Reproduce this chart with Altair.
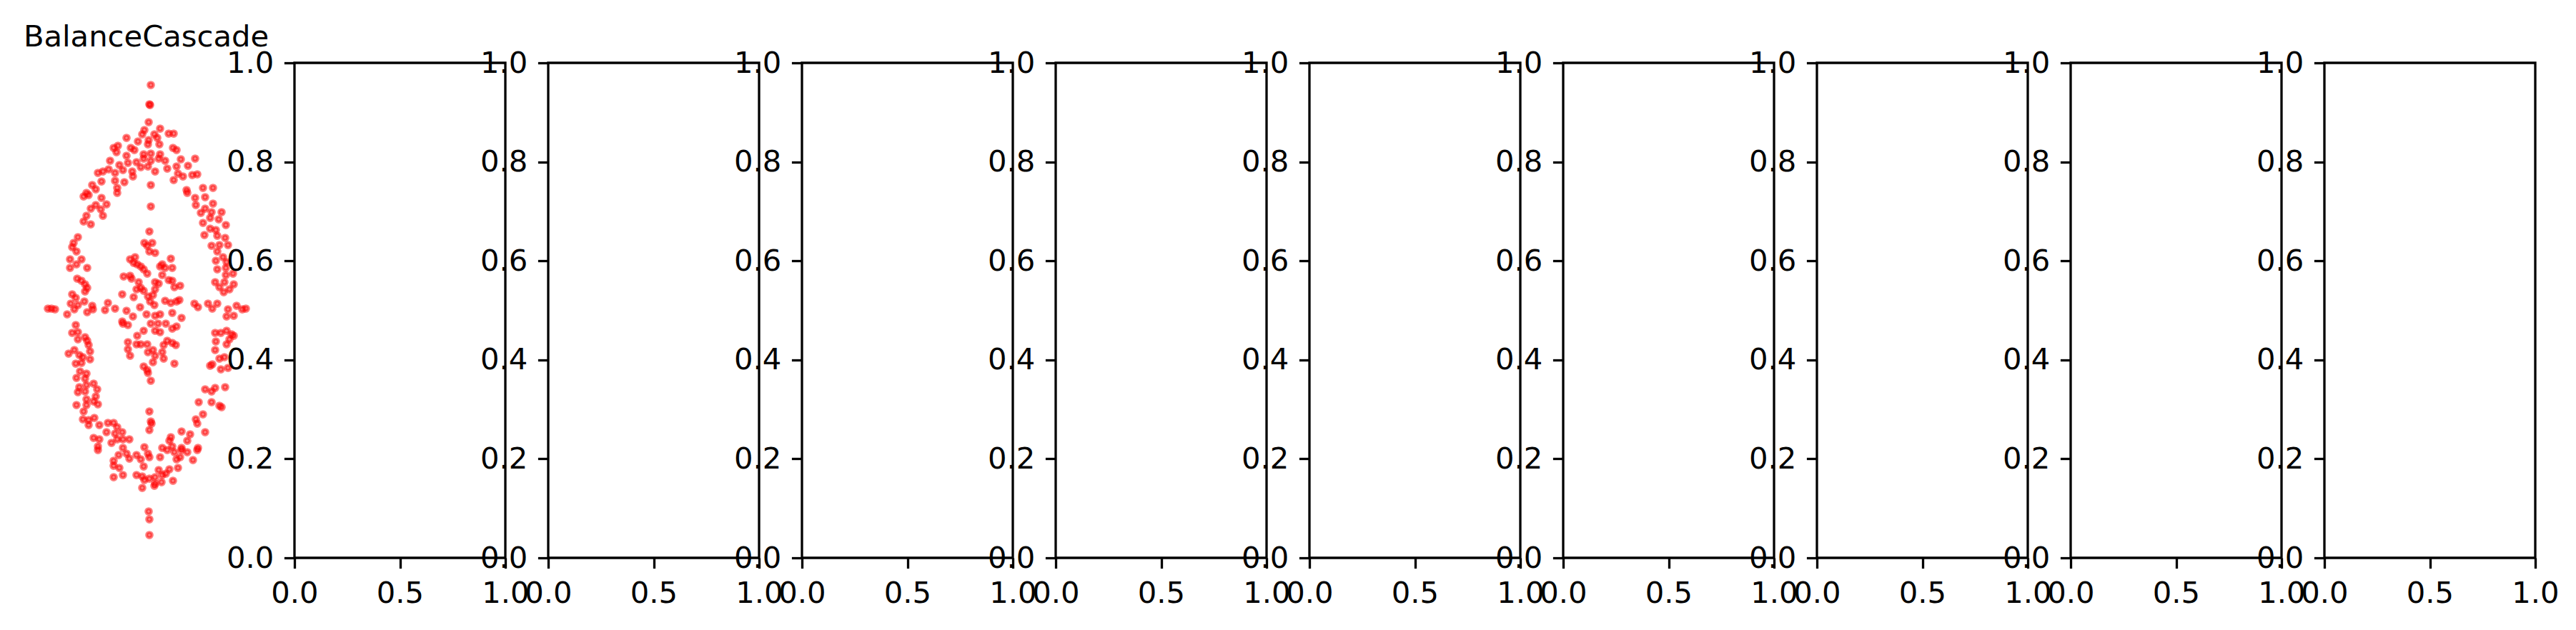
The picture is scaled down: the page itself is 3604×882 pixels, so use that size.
import pandas as pd
import altair as alt

# points of the BalanceCascade panel (x, y)
arc_top = [(-0.08,2.52),(0.14,2.54),(-0.11,2.46),(0.06,2.46),(0.26,2.47),(0.33,2.47),(-0.33,2.41),(-0.17,2.36),
    (-0.02,2.38),(0.10,2.41),(0.13,2.32),(-0.51,2.27),(-0.45,2.30),(-0.47,2.21),(-0.27,2.27),(-0.22,2.24),
    (-0.03,2.32),(-0.09,2.18),(0.01,2.19),(0.14,2.18),(0.32,2.27),(0.37,2.24),(-0.33,2.16),(-0.56,2.09),
    (-0.43,2.03),(-0.31,2.06),(-0.19,2.07),(-0.09,2.12),(0.01,2.09),(0.12,2.12),(0.21,2.09),(0.43,2.11),
    (0.63,2.12),(-0.73,1.92),(-0.66,1.94),(-0.58,1.97),(-0.49,1.92),(-0.38,1.96),(-0.25,1.94),(-0.24,1.87),
    (-0.13,2.00),(-0.03,2.01),(0.07,1.94),(0.24,1.98),(0.37,2.01),(0.53,2.02),(-0.68,1.80),(-0.49,1.81),
    (-0.36,1.79),(0.33,1.82),(0.39,1.91),(0.46,1.87),(0.59,1.89),(0.66,1.90),(-0.81,1.75),(-0.76,1.69),
    (-0.46,1.71),(0.51,1.68),(0.74,1.71),(0.88,1.71),(-0.89,1.64),(-0.46,1.64),(0.52,1.64)]

arc_left = [(-0.93,1.59),(-0.86,1.61),(-0.68,1.57),(-0.61,1.48),(-0.76,1.47),(-0.83,1.42),(-0.69,1.41),(-0.66,1.32),
    (-0.89,1.32),(-0.93,1.24),(-0.83,1.20),(-1.01,1.02),(-1.07,0.94),(-1.09,0.88),(-1.03,0.82),(-1.12,0.71),
    (-0.96,0.71),(-1.12,0.59),(-1.03,0.64),(-0.88,0.59),(-1.02,0.44),(-0.96,0.41),(-0.91,0.36),(-0.88,0.31),
    (-0.91,0.26),(-1.09,0.22),(-1.04,0.17),(-1.11,0.09),(-1.01,0.07),(-0.92,0.12),(-0.81,0.06),
    (-1.04,-0.21),(-1.09,-0.32),(-1.01,-0.31),(-0.91,-0.38),(-1.01,-0.41),(-0.88,-0.43),(-0.86,-0.49),(-0.84,-0.58),
    (-1.14,-0.61),(-1.06,-0.56),(-0.99,-0.63),(-0.94,-0.66),(-0.84,-0.69),(-1.04,-0.75),(-0.96,-0.74),(-0.98,-0.86),
    (-0.89,-0.89),(-1.03,-0.95),(-0.91,-0.96),(-0.79,-1.03),(-0.99,-1.08),(-0.89,-1.05),(-0.74,-1.11),(-1.01,-1.15),
    (-0.91,-1.14),(-0.76,-1.21),(-0.89,-1.25),(-0.79,-1.28),(-1.03,-1.33),(-0.89,-1.33),(-0.73,-1.32),(-0.93,-1.42),
    (-0.94,-1.53),(-0.86,-1.54),(-0.78,-1.51),(-0.86,-1.61),(-0.71,-1.61)]

arc_right = [(0.63,1.57),(0.77,1.58),(0.64,1.47),(0.77,1.42),(0.88,1.49),(0.71,1.36),(0.86,1.37),(1.00,1.37),
    (0.84,1.29),(0.96,1.27),(0.74,1.22),(1.06,1.19),(0.84,1.14),(0.92,1.12),(0.76,1.05),(0.94,1.04),
    (1.05,1.01),(0.86,0.90),(0.97,0.91),(1.09,0.91),(0.94,0.82),(0.92,0.69),(1.02,0.74),(1.07,0.67),
    (0.94,0.57),(1.06,0.59),(1.16,0.51),(0.91,0.39),(1.06,0.49),(1.04,0.39),(1.17,0.36),(0.97,0.32),
    (1.11,0.29),(1.03,0.25),
    (0.91,-0.32),(0.99,-0.32),(1.07,-0.29),(1.14,-0.34),(1.17,-0.36),(0.92,-0.44),(1.07,-0.48),(1.11,-0.41),
    (0.91,-0.56),(0.97,-0.68),(1.04,-0.66),(0.84,-0.78),(0.87,-0.76),(0.99,-0.83),(1.09,-0.81),(0.77,-1.11),
    (0.86,-1.14),(0.91,-1.09),(1.05,-1.08),(0.68,-1.29),(0.86,-1.29),(0.97,-1.34),(1.00,-1.36),(0.74,-1.46),
    (0.64,-1.53),(0.66,-1.59),(0.77,-1.71)]

arc_bottom = [(-0.59,-1.58),(-0.51,-1.58),(-0.46,-1.64),(-0.61,-1.71),(-0.49,-1.73),(-0.39,-1.71),(-0.79,-1.79),
    (-0.71,-1.81),(-0.54,-1.86),(-0.46,-1.81),(-0.38,-1.81),(-0.29,-1.81),(-0.73,-1.91),(-0.38,-1.93),
    (0.44,-1.70),(0.56,-1.74),(0.52,-1.83),(0.29,-1.78),(0.27,-1.83),(0.31,-1.91),(0.17,-1.93),(0.44,-1.93),
    (0.67,-1.93),(-0.08,-1.92),(-0.73,-1.96),(-0.44,-2.03),(-0.51,-2.11),(-0.43,-2.21),(-0.51,-2.18),
    (-0.33,-2.01),(-0.29,-2.08),(-0.19,-2.03),(-0.13,-2.09),(-0.03,-2.01),(-0.01,-2.06),(0.14,-2.06),
    (0.24,-1.96),(0.34,-1.99),(0.44,-1.96),(0.52,-1.99),(0.66,-1.96),(0.42,-2.06),(0.37,-2.09),(0.60,-2.10),
    (-0.09,-2.19),(0.12,-2.24),(0.27,-2.23),(0.39,-2.21),(-0.51,-2.34),(-0.38,-2.31),(-0.19,-2.31),
    (-0.11,-2.33),(-0.08,-2.38),(-0.01,-2.36),(0.07,-2.34),(0.17,-2.31),(0.22,-2.29),(0.07,-2.43),
    (0.16,-2.41),(0.32,-2.39),(-0.11,-2.49),(0.06,-2.46)]

core = [(-0.08,0.94),(-0.04,0.90),(0.03,0.94),(-0.01,0.82),(0.07,0.80),(-0.28,0.71),(-0.21,0.74),(-0.23,0.66),
    (-0.18,0.64),(-0.13,0.61),(-0.09,0.57),(-0.04,0.51),(-0.37,0.47),(-0.28,0.48),(-0.26,0.44),(-0.16,0.39),
    (-0.19,0.29),(-0.13,0.31),(-0.09,0.27),(-0.03,0.19),(0.04,0.21),(0.12,0.37),(0.07,0.39),(0.14,0.61),
    (0.17,0.64),(0.21,0.59),(0.29,0.72),(0.31,0.59),(0.17,0.49),(0.26,0.42),(0.31,0.41),(0.42,0.34),
    (0.34,0.32),(0.07,0.29),(-0.39,0.22),(-0.23,0.18),(0.21,0.13),(0.29,0.10),(0.37,0.12),(0.41,0.14),
    (0.06,0.07),(0.00,0.12),
    (-0.38,-0.19),(-0.31,-0.21),(-0.18,-0.36),(-0.09,-0.29),(0.01,-0.19),(0.11,-0.19),(0.22,-0.19),(0.07,-0.29),
    (0.14,-0.31),(0.31,-0.26),(0.37,-0.23),(-0.31,-0.45),(-0.19,-0.48),(-0.13,-0.48),(-0.04,-0.48),(-0.31,-0.55),
    (-0.28,-0.64),(-0.03,-0.59),(0.04,-0.56),(0.07,-0.64),(0.19,-0.49),(0.17,-0.59),(0.24,-0.43),(0.31,-0.46),
    (0.36,-0.49),(0.19,-0.68),(0.04,-0.73),(0.34,-0.75),(-0.09,-0.79),(-0.04,-0.84),(-0.03,-0.88),(0.01,-0.99)]

cross_h = [(-1.43,0.02),(-1.38,0.02),(-1.33,0.01),(-1.16,-0.06),(-1.06,0.01),(-0.88,-0.03),(-0.80,0.01),(-0.63,0.00),
    (-0.59,0.10),(-0.49,0.02),(-0.33,-0.01),(-0.24,-0.09),(-0.14,0.04),(-0.05,-0.06),(0.07,-0.08),(0.14,-0.06),
    (0.31,-0.04),(0.44,-0.11),(0.62,0.09),(0.67,0.04),(0.81,0.09),(0.87,0.02),(0.94,0.09),(1.09,0.01),
    (1.21,0.06),(1.29,0.01),(1.34,0.02),(1.07,-0.09),(1.17,-0.08),(-0.39,-0.16)]

cross_v = [(0.01,3.15),(-0.01,2.88),(0.00,2.87),(-0.02,2.63),(0.01,1.75),(0.01,1.45),(-0.01,1.10),(-0.01,-1.42),
    (0.01,-1.56),(0.02,-1.59),(-0.01,-1.68),(-0.02,-2.82),(-0.01,-2.93),(-0.01,-3.15)]

title = "BalanceCascade"
n_empty = 9
x_ticks = [0, 0.5, 1]
y_ticks = [0, 0.2, 0.4, 0.6, 0.8, 1]

pts = arc_top + arc_left + arc_right + arc_bottom + core + cross_h + cross_v
df = pd.DataFrame(pts, columns=["x", "y"])

W, H = 295, 693

scatter = alt.Chart(df).mark_circle(
    color="red", fillOpacity=0.5, stroke="red", strokeOpacity=0.5, strokeWidth=4.2, size=57
).encode(
    x=alt.X("x:Q", scale=alt.Scale(domain=[-1.53, 1.42], nice=False, zero=False), axis=None),
    y=alt.Y("y:Q", scale=alt.Scale(domain=[-3.47, 3.46], nice=False, zero=False), axis=None),
).properties(
    width=W, height=H,
    view=alt.ViewBackground(strokeOpacity=0),
    title=alt.TitleParams(title, fontSize=41.7, font="DejaVu Sans", fontWeight="normal",
                          color="black", anchor="middle", baseline="alphabetic", offset=-19),
)

empty = pd.DataFrame({"x": pd.Series([], dtype=float), "y": pd.Series([], dtype=float)})

def blank_panel():
    return alt.Chart(empty).mark_point().encode(
        x=alt.X("x:Q", scale=alt.Scale(domain=[0, 1], nice=False),
                axis=alt.Axis(values=x_ticks, format=".1f", title=None)),
        y=alt.Y("y:Q", scale=alt.Scale(domain=[0, 1], nice=False),
                axis=alt.Axis(values=y_ticks, format=".1f", title=None)),
    ).properties(width=W, height=H)

chart = alt.hconcat(scatter, *[blank_panel() for _ in range(n_empty)], spacing=60, bounds="flush").properties(
    padding={"left": 24, "top": 24, "right": 5, "bottom": 5}
).configure_view(
    stroke="black", strokeWidth=3.3
).configure_axis(
    labelFont="DejaVu Sans", labelFontSize=41.7, labelColor="black",
    tickColor="black", tickSize=14.6, tickWidth=3.3, labelPadding=14.6,
    domain=False, grid=False, labelFlush=False, labelOverlap=False,
)

chart.save("out.html", embed_options={"renderer": "svg", "actions": False})
